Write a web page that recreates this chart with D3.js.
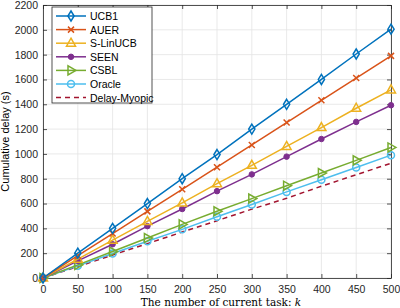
<!DOCTYPE html>
<html>
<head>
<meta charset="utf-8">
<script src="https://cdn.jsdelivr.net/npm/d3@7"></script>
<style>
  body { margin: 0; background: #fff; }
  text { font-family: "Liberation Sans", Arial, sans-serif; }
</style>
</head>
<body>
<svg id="chart"></svg>
<script>
// data
var taskK = [0, 50, 100, 150, 200, 250, 300, 350, 400, 450, 500];
var ucb1    = [0, 200, 400, 600, 800, 995, 1200, 1400, 1600, 1805, 2005];
var auer    = [0, 180, 358, 537, 715, 893, 1072, 1253, 1432, 1611, 1790];
var sLinUcb = [0, 152, 305, 456, 605, 760, 908, 1060, 1212, 1368, 1516];
var seen    = [0, 138, 272, 418, 556, 700, 835, 978, 1120, 1258, 1392];
var csbl    = [0, 106, 213, 322, 432, 538, 640, 744, 846, 948, 1052];
var oracle  = [0, 98, 197, 296, 392, 494, 592, 694, 792, 890, 990];
var myopic  = [0, 92, 185, 277, 370, 462, 555, 642, 740, 832, 925];
var seriesNames = ["UCB1", "AUER", "S-LinUCB", "SEEN", "CSBL", "Oracle", "Delay-Myopic"];
var xTicks = [0, 50, 100, 150, 200, 250, 300, 350, 400, 450, 500];
var yTicks = [0, 200, 400, 600, 800, 1000, 1200, 1400, 1600, 1800, 2000, 2200];

var series = [
  { name: seriesNames[0], values: ucb1,    color: "#0072BD", marker: "diamond" },
  { name: seriesNames[1], values: auer,    color: "#D95319", marker: "cross" },
  { name: seriesNames[2], values: sLinUcb, color: "#EDB120", marker: "triangle" },
  { name: seriesNames[3], values: seen,    color: "#7E2F8E", marker: "dot" },
  { name: seriesNames[4], values: csbl,    color: "#77AC30", marker: "right" },
  { name: seriesNames[5], values: oracle,  color: "#4DBEEE", marker: "circle" },
  { name: seriesNames[6], values: myopic,  color: "#A2142F", marker: "none", dash: "5,4" }
];

var width = 400, height = 308;
var margin = { top: 5, right: 9, bottom: 30, left: 43 };
var w = width - margin.left - margin.right;
var h = height - margin.top - margin.bottom;

var svg = d3.select("#chart").attr("width", width).attr("height", height);
var g = svg.append("g").attr("transform", "translate(" + margin.left + "," + margin.top + ")");

var x = d3.scaleLinear().domain([0, 500]).range([0, w]);
var y = d3.scaleLinear().domain([0, 2200]).range([h, 0]);

// grid
g.append("g").selectAll("line").data(xTicks).enter().append("line")
  .attr("x1", d => x(d)).attr("x2", d => x(d)).attr("y1", 0).attr("y2", h)
  .attr("stroke", "#e3e3e3").attr("stroke-width", 0.8);
g.append("g").selectAll("line").data(yTicks).enter().append("line")
  .attr("x1", 0).attr("x2", w).attr("y1", d => y(d)).attr("y2", d => y(d))
  .attr("stroke", "#e3e3e3").attr("stroke-width", 0.8);

// axes (ticks pointing in, matlab style)
var axisColor = "#262626";
var fmt = d3.format("d");
var xAxis = g.append("g").attr("transform", "translate(0," + h + ")")
  .call(d3.axisBottom(x).tickValues(xTicks).tickFormat(fmt).tickSizeInner(-4).tickSizeOuter(0).tickPadding(8));
var yAxis = g.append("g")
  .call(d3.axisLeft(y).tickValues(yTicks).tickFormat(fmt).tickSizeInner(-4).tickSizeOuter(0).tickPadding(5));
var xTop = g.append("g")
  .call(d3.axisTop(x).tickValues(xTicks).tickSizeInner(-4).tickSizeOuter(0).tickFormat(""));
var yRight = g.append("g").attr("transform", "translate(" + w + ",0)")
  .call(d3.axisRight(y).tickValues(yTicks).tickSizeInner(-4).tickSizeOuter(0).tickFormat(""));
[xAxis, yAxis, xTop, yRight].forEach(function (a) {
  a.selectAll("path,line").attr("stroke", axisColor).attr("stroke-width", 0.8);
  a.selectAll("text").attr("fill", "#262626").style("font-size", "10.5px")
    .style("font-family", "Liberation Sans, Arial, sans-serif");
});

// lines
var line = d3.line().x((d, i) => x(taskK[i])).y(d => y(d));
function drawMarker(sel, type, color, size) {
  var s = size;
  if (type === "diamond") {
    sel.append("path").attr("d", "M0," + (-s) + "L" + (s * 0.62) + ",0L0," + s + "L" + (-s * 0.62) + ",0Z")
      .attr("fill", "none").attr("stroke", color).attr("stroke-width", 1.5);
  } else if (type === "cross") {
    var c = s * 0.6;
    sel.append("path").attr("d", "M" + (-c) + "," + (-c) + "L" + c + "," + c + "M" + (-c) + "," + c + "L" + c + "," + (-c))
      .attr("fill", "none").attr("stroke", color).attr("stroke-width", 1.5);
  } else if (type === "triangle") {
    sel.append("path").attr("d", "M0," + (-s) + "L" + (s * 0.9) + "," + (s * 0.6) + "L" + (-s * 0.9) + "," + (s * 0.6) + "Z")
      .attr("fill", "none").attr("stroke", color).attr("stroke-width", 1.5);
  } else if (type === "right") {
    sel.append("path").attr("d", "M" + s + ",0L" + (-s * 0.6) + "," + (s * 0.9) + "L" + (-s * 0.6) + "," + (-s * 0.9) + "Z")
      .attr("fill", "none").attr("stroke", color).attr("stroke-width", 1.5);
  } else if (type === "dot") {
    sel.append("circle").attr("r", s * 0.55).attr("fill", color).attr("stroke", color).attr("stroke-width", 1);
  } else if (type === "circle") {
    sel.append("circle").attr("r", s * 0.7).attr("fill", "none").attr("stroke", color).attr("stroke-width", 1.5);
  }
}

// draw from bottom series up so top lines sit above
series.slice().reverse().forEach(function (s) {
  var sg = g.append("g");
  sg.append("path").datum(s.values).attr("d", line)
    .attr("fill", "none").attr("stroke", s.color).attr("stroke-width", 1.5)
    .attr("stroke-dasharray", s.dash || null);
  if (s.marker !== "none") {
    s.values.forEach(function (v, i) {
      var m = sg.append("g").attr("transform", "translate(" + x(taskK[i]) + "," + y(v) + ")");
      drawMarker(m, s.marker, s.color, 5);
    });
  }
});

// legend
var lg = g.append("g").attr("transform", "translate(9,2)");
lg.append("rect").attr("width", 100).attr("height", 96)
  .attr("fill", "#fff").attr("stroke", axisColor).attr("stroke-width", 0.8);
series.forEach(function (s, i) {
  var yy = 9 + i * 13.6;
  var row = lg.append("g").attr("transform", "translate(0," + yy + ")");
  row.append("line").attr("x1", 4).attr("x2", 34).attr("y1", 0).attr("y2", 0)
    .attr("stroke", s.color).attr("stroke-width", 1.5).attr("stroke-dasharray", s.dash || null);
  if (s.marker !== "none") {
    drawMarker(row.append("g").attr("transform", "translate(19,0)"), s.marker, s.color, 5);
  }
  row.append("text").attr("x", 38).attr("y", 4).style("font-size", "10.5px").attr("fill", "#000").text(s.name);
});

// axis labels
svg.append("text")
  .attr("transform", "translate(9," + (margin.top + h / 2) + ") rotate(-90)")
  .attr("text-anchor", "middle").style("font-size", "11px").attr("fill", "#000")
  .text("Cumulative delay (s)");
var xl = svg.append("text")
  .attr("x", margin.left + w / 2 + 4).attr("y", 306)
  .attr("text-anchor", "middle")
  .style("font-family", "DejaVu Serif, Liberation Serif, serif").style("font-size", "10.5px").attr("fill", "#000");
xl.append("tspan").text("The number of current task: ");
xl.append("tspan").style("font-style", "italic").text("k");
</script>
</body>
</html>
